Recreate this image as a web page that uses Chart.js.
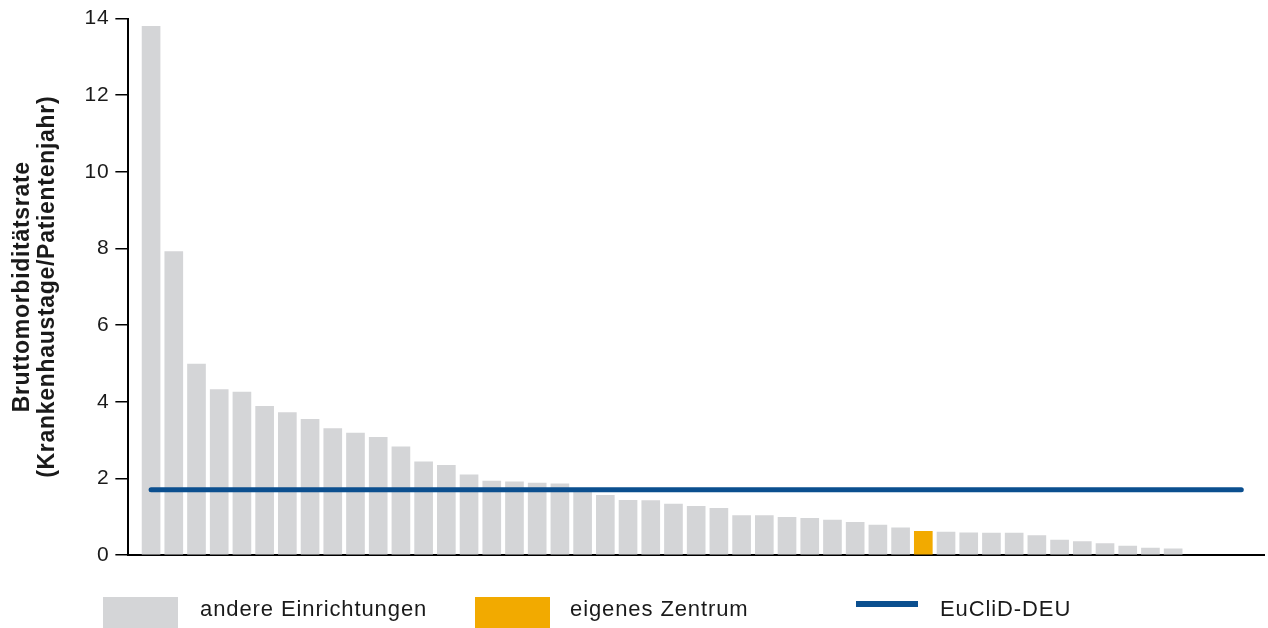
<!DOCTYPE html>
<html lang="de">
<head>
  <meta charset="UTF-8" />
  <title>Bruttomorbiditätsrate</title>
  <script src="https://cdn.jsdelivr.net/npm/chart.js"></script>
  <style>
    body { margin: 0; background: #fff; font-family: "Liberation Sans", Arial, sans-serif; }
    #wrap { position: relative; width: 1268px; height: 628px; }
    .lg-box { position: absolute; }
    .lg-text { position: absolute; font-size: 22px; letter-spacing: 0.9px; color: #1a1a1a; line-height: 26px; }
  </style>
</head>
<body>
  <div id="wrap">
    <canvas id="chart" width="1268" height="628"></canvas>

    <!-- legend -->
    <div class="lg-box" style="left:103px; top:597px; width:75px; height:31px; background:#d4d5d7;"></div>
    <div class="lg-text" style="left:200px; top:596px;">andere Einrichtungen</div>
    <div class="lg-box" style="left:475px; top:597px; width:75px; height:31px; background:#f2aa00;"></div>
    <div class="lg-text" style="left:570px; top:596px;">eigenes Zentrum</div>
    <div class="lg-box" style="left:856px; top:601px; width:62px; height:6px; background:#0b4f8f;"></div>
    <div class="lg-text" style="left:940px; top:596px;">EuCliD-DEU</div>
  </div>

  <script>
    // Bruttomorbiditätsrate je Einrichtung (sortiert)
    const rates = [
      13.8, 7.92, 4.98, 4.32, 4.25, 3.88, 3.72, 3.54, 3.30, 3.18,
      3.07, 2.82, 2.43, 2.34, 2.09, 1.93, 1.91, 1.88, 1.86, 1.72,
      1.56, 1.43, 1.42, 1.33, 1.27, 1.22, 1.03, 1.03, 0.98, 0.96,
      0.91, 0.85, 0.78, 0.71, 0.62, 0.60, 0.58, 0.57, 0.57, 0.51,
      0.39, 0.35, 0.30, 0.23, 0.18, 0.16
    ];
    const ownCentre = 35;          // Position des eigenen Zentrums (1-basiert)
    const euclidValue = 1.7;       // EuCliD-DEU Referenzwert
    const euclidSpan = [1, 49];    // von Einrichtung 1 bis kurz vor Achsenende
    const xRange = [0, 50];
    const yTicks = [0, 2, 4, 6, 8, 10, 12, 14];

    const grey = '#d4d5d7';
    const orange = '#f2aa00';
    const blue = '#0b4f8f';

    const barData = rates.map((v, i) => ({ x: i + 1, y: v }));
    const barColors = rates.map((v, i) => (i + 1 === ownCentre ? orange : grey));
    const lineData = euclidSpan.map(x => ({ x: x, y: euclidValue }));

    // the reference text is set a little spaced out
    const spacing = {
      id: 'spacing',
      beforeUpdate: c => { c.ctx.letterSpacing = '0.7px'; },
      beforeDraw: c => { c.ctx.letterSpacing = '0.7px'; }
    };

    const ctx = document.getElementById('chart').getContext('2d');
    const chart = new Chart(ctx, {
      data: {
        datasets: [
          {
            type: 'line',
            label: 'EuCliD-DEU',
            data: lineData,
            borderColor: blue,
            borderWidth: 5,
            borderCapStyle: 'round',
            pointRadius: 0,
            order: 0
          },
          {
            type: 'bar',
            label: 'Einrichtungen',
            data: barData,
            backgroundColor: barColors,
            barThickness: 18,
            order: 1
          }
        ]
      },
      plugins: [spacing],
      options: {
        responsive: false,
        animation: false,
        layout: { padding: { left: 10, right: 4, top: 18, bottom: 65 } },
        plugins: { legend: { display: false }, tooltip: { enabled: false } },
        scales: {
          x: {
            type: 'linear',
            offset: false,
            min: xRange[0],
            max: xRange[1],
            ticks: { display: false },
            grid: { display: false },
            border: { display: true, color: '#000', width: 2 }
          },
          y: {
            min: yTicks[0],
            max: yTicks[yTicks.length - 1],
            afterBuildTicks: axis => { axis.ticks = yTicks.map(v => ({ value: v })); },
            ticks: {
              color: '#1a1a1a',
              padding: 6,
              font: { family: '"Liberation Sans", Arial, sans-serif', size: 21 }
            },
            grid: {
              drawOnChartArea: false,
              drawTicks: true,
              tickLength: 13,
              color: '#000',
              lineWidth: 1.5
            },
            border: { display: true, color: '#000', width: 2 },
            title: {
              display: true,
              text: ['Bruttomorbiditätsrate', '(Krankenhaustage/Patientenjahr)'],
              color: '#1a1a1a',
              padding: { top: 0, bottom: 18 },
              font: { family: '"Liberation Sans", Arial, sans-serif', size: 23, weight: 'bold', lineHeight: 1.1 }
            }
          }
        }
      }
    });
  </script>
</body>
</html>
